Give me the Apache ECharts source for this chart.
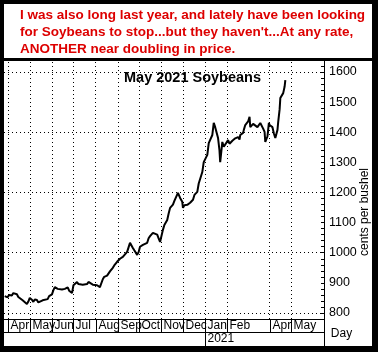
<!DOCTYPE html>
<html>
<head>
<meta charset="utf-8">
<script src="https://cdn.jsdelivr.net/npm/echarts@6/dist/echarts.min.js"></script>
<style>
  html, body { margin: 0; padding: 0; background: #fff; }
  #chart { width: 378px; height: 352px; }
</style>
</head>
<body>
<div id="chart"></div>
<script>
// daily closes (cents per bushel)
var dates = [
  '2020-03-27','2020-03-31','2020-04-02','2020-04-06','2020-04-08','2020-04-13','2020-04-15','2020-04-17',
  '2020-04-21','2020-04-23','2020-04-27','2020-04-29','2020-05-01','2020-05-04','2020-05-06','2020-05-08',
  '2020-05-11','2020-05-13','2020-05-15','2020-05-19','2020-05-21','2020-05-26','2020-05-28','2020-06-01',
  '2020-06-03','2020-06-05','2020-06-09','2020-06-11','2020-06-15','2020-06-17','2020-06-19','2020-06-23',
  '2020-06-25','2020-06-29','2020-07-01','2020-07-06','2020-07-08','2020-07-10','2020-07-14','2020-07-16',
  '2020-07-20','2020-07-22','2020-07-24','2020-07-28','2020-07-30','2020-08-03','2020-08-05','2020-08-07',
  '2020-08-11','2020-08-13','2020-08-17','2020-08-19','2020-08-21','2020-08-25','2020-08-27','2020-08-31',
  '2020-09-02','2020-09-04','2020-09-08','2020-09-10','2020-09-14','2020-09-16','2020-09-18','2020-09-22',
  '2020-09-24','2020-09-28','2020-09-30','2020-10-02','2020-10-06','2020-10-08','2020-10-12','2020-10-14',
  '2020-10-16','2020-10-20','2020-10-22','2020-10-26','2020-10-28','2020-10-30','2020-11-03','2020-11-05',
  '2020-11-09','2020-11-11','2020-11-13','2020-11-17','2020-11-19','2020-11-20','2020-11-24','2020-11-27',
  '2020-11-30','2020-12-01','2020-12-03','2020-12-07','2020-12-09','2020-12-11','2020-12-15','2020-12-17',
  '2020-12-21','2020-12-23','2020-12-28','2020-12-30','2021-01-04','2021-01-06','2021-01-08','2021-01-11',
  '2021-01-13','2021-01-15','2021-01-19','2021-01-21','2021-01-22','2021-01-25','2021-01-27','2021-01-29',
  '2021-02-02','2021-02-04','2021-02-08','2021-02-10','2021-02-12','2021-02-16','2021-02-18','2021-02-19',
  '2021-02-23','2021-02-24','2021-02-26','2021-03-02','2021-03-04','2021-03-05','2021-03-09','2021-03-11',
  '2021-03-15','2021-03-17','2021-03-19','2021-03-23','2021-03-25','2021-03-26','2021-03-29','2021-03-31',
  '2021-04-01','2021-04-05','2021-04-07','2021-04-09','2021-04-12','2021-04-13','2021-04-15','2021-04-16',
  '2021-04-20','2021-04-22','2021-04-23'
];
var prices = [
  856, 852, 860, 858, 866, 862, 853, 850,
  842, 846, 830, 838, 850, 844, 837, 845,
  843, 835, 837, 842, 848, 846, 856, 862,
  876, 886, 880, 884, 878, 883, 880, 885,
  874, 866, 892, 903, 896, 900, 894, 890,
  896, 903, 898, 894, 900, 892, 888, 886,
  912, 920, 924, 930, 938, 950, 958, 970,
  976, 980, 986, 992, 1003, 1018, 1033, 1016,
  1008, 993, 1002, 1020, 1026, 1030, 1033, 1048,
  1055, 1066, 1062, 1060, 1048, 1036, 1076, 1092,
  1109, 1130, 1149, 1160, 1172, 1176, 1199, 1182,
  1169, 1149, 1158, 1159, 1164, 1166, 1176, 1192,
  1202, 1230, 1268, 1301, 1325, 1364, 1375, 1391,
  1431, 1417, 1381, 1340, 1301, 1368, 1352, 1358,
  1374, 1362, 1372, 1368, 1380, 1384, 1376, 1391,
  1398, 1408, 1424, 1436, 1451, 1417, 1428, 1431,
  1417, 1422, 1431, 1412, 1401, 1368, 1386, 1431,
  1424, 1417, 1396, 1381, 1408, 1434, 1476, 1514,
  1530, 1552, 1573
];

var monthStarts = ['2020-04-01','2020-05-01','2020-06-01','2020-07-01','2020-08-01','2020-09-01',
  '2020-10-01','2020-11-01','2020-12-01','2021-01-01','2021-02-01','2021-04-01','2021-05-01'];
var monthLabels = ['Apr','May','Jun','Jul','Aug','Sep','Oct','Nov','Dec','Jan','Feb','Apr','May'];
var yearStarts = ['2021-01-01'];
var yearLabels = ['2021'];
var gridValues = [800, 1000, 1200, 1400, 1600];

var yMin = 780, yMax = 1640;
var ts = function (s) { return new Date(s + 'T00:00:00').getTime(); };
var FONT = '"Liberation Sans", Arial, sans-serif';

var chart = echarts.init(document.getElementById('chart'));

var gridMarks = [];
monthStarts.forEach(function (d) { gridMarks.push({ xAxis: ts(d) }); });
gridValues.forEach(function (v) { gridMarks.push({ yAxis: v }); });

var option = {
  animation: false,
  backgroundColor: '#fff',
  title: [
    {
      text: 'I was also long last year, and lately have been looking\nfor Soybeans to stop...but they haven\'t...At any rate,\nANOTHER near doubling in price.',
      left: 20, top: 7, padding: 0,
      textStyle: { color: '#dd0000', fontSize: 13.5, fontWeight: 'bold', lineHeight: 17, fontFamily: FONT }
    },
    {
      text: 'May 2021 Soybeans',
      left: 124, top: 70, padding: 0,
      textStyle: { color: '#000', fontSize: 14.5, fontWeight: 'bold', fontFamily: FONT }
    }
  ],
  grid: { left: 4, right: 54, top: 60, bottom: 33 },
  xAxis: {
    type: 'time',
    min: ts('2020-03-26'),
    max: ts('2021-06-16'),
    axisLine: { show: true, lineStyle: { color: '#000', width: 1 } },
    axisTick: { show: false },
    axisLabel: { show: false },
    splitLine: { show: false }
  },
  yAxis: {
    type: 'value',
    position: 'right',
    min: yMin,
    max: yMax,
    interval: 20,
    axisLine: { show: true, lineStyle: { color: '#000', width: 1 } },
    axisTick: { show: true, inside: true, length: 3, lineStyle: { color: '#000' } },
    axisLabel: {
      margin: 5, color: '#000', fontSize: 12.5, fontFamily: FONT,
      formatter: function (v) { return v % 100 === 0 ? String(v) : ''; }
    },
    splitLine: { show: false }
  },
  graphic: [
    { type: 'rect', shape: { x: 0, y: 0, width: 378, height: 4 }, style: { fill: '#000' } },
    { type: 'rect', shape: { x: 0, y: 0, width: 4, height: 352 }, style: { fill: '#000' } },
    { type: 'rect', shape: { x: 372, y: 0, width: 6, height: 352 }, style: { fill: '#000' } },
    { type: 'rect', shape: { x: 0, y: 346, width: 378, height: 6 }, style: { fill: '#000' } },
    { type: 'rect', shape: { x: 0, y: 58, width: 378, height: 3 }, style: { fill: '#000' } },
    {
      type: 'text', x: 365, y: 212, rotation: Math.PI / 2,
      style: { text: 'cents per bushel', fill: '#000', font: '12px ' + FONT, textAlign: 'center', textVerticalAlign: 'middle' }
    }
  ],
  series: [
    {
      type: 'line',
      data: dates.map(function (d, i) { return [ts(d), prices[i]]; }),
      showSymbol: false,
      symbol: 'none',
      lineStyle: { color: '#000', width: 2 },
      z: 5,
      markLine: {
        silent: true,
        symbol: 'none',
        label: { show: false },
        lineStyle: { color: '#000', width: 1, type: [1, 3] },
        data: gridMarks
      }
    },
    {
      // month label row under the plot
      type: 'custom',
      silent: true,
      clip: false,
      data: monthStarts.map(function (d) { return [ts(d), yMin]; }),
      encode: { x: 0, y: 1 },
      renderItem: function (params, api) {
        var cs = params.coordSys;
        var bottom = cs.y + cs.height;
        var x0 = Math.round(api.coord([api.value(0), yMin])[0]) + 0.5;
        return {
          type: 'group',
          children: [
            { type: 'line', shape: { x1: x0, y1: bottom, x2: x0, y2: bottom + 13 }, style: { stroke: '#000', lineWidth: 1 } },
            { type: 'text', style: { text: monthLabels[params.dataIndex], x: x0 + 2, y: bottom + 7, fill: '#000', font: '12px ' + FONT, verticalAlign: 'middle' } }
          ]
        };
      }
    },
    {
      // year row, row divider, axis extension and "Day"
      type: 'custom',
      silent: true,
      clip: false,
      data: yearStarts.map(function (d) { return [ts(d), yMin]; }),
      encode: { x: 0, y: 1 },
      renderItem: function (params, api) {
        var cs = params.coordSys;
        var bottom = cs.y + cs.height;
        var right = Math.round(cs.x + cs.width) + 0.5;
        var x0 = Math.round(api.coord([api.value(0), yMin])[0]) + 0.5;
        var rowY = Math.round(bottom + 13) + 0.5;
        return {
          type: 'group',
          children: [
            { type: 'line', shape: { x1: cs.x, y1: rowY, x2: right, y2: rowY }, style: { stroke: '#000', lineWidth: 1 } },
            { type: 'line', shape: { x1: x0, y1: rowY, x2: x0, y2: bottom + 28 }, style: { stroke: '#000', lineWidth: 1 } },
            { type: 'line', shape: { x1: right, y1: bottom, x2: right, y2: bottom + 28 }, style: { stroke: '#000', lineWidth: 1 } },
            { type: 'text', style: { text: yearLabels[params.dataIndex], x: x0 + 2, y: bottom + 20, fill: '#000', font: '12px ' + FONT, verticalAlign: 'middle' } },
            { type: 'text', style: { text: 'Day', x: right + 17, y: bottom + 15, fill: '#000', font: '12px ' + FONT, align: 'center', verticalAlign: 'middle' } }
          ]
        };
      }
    }
  ]
};

chart.setOption(option);
</script>
</body>
</html>
